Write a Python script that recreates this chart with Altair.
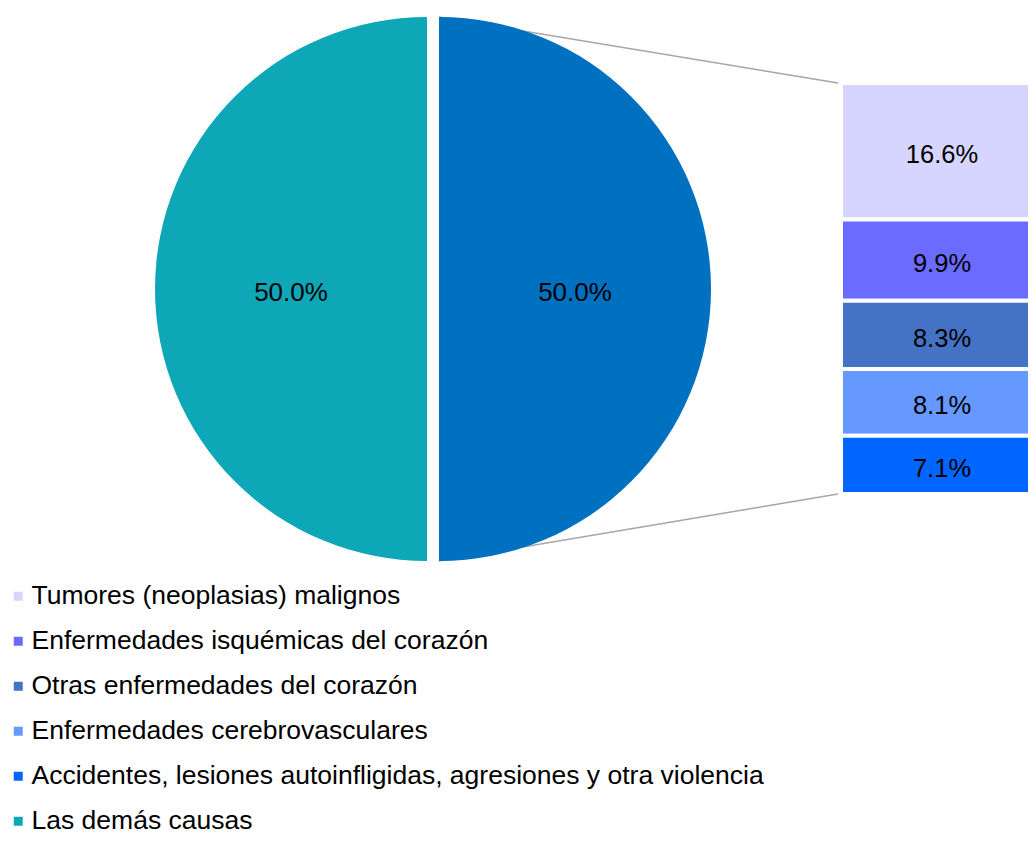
import math
import altair as alt
import pandas as pd

# ---- data ----
bar_categories = [
    "Tumores (neoplasias) malignos",
    "Enfermedades isquémicas del corazón",
    "Otras enfermedades del corazón",
    "Enfermedades cerebrovasculares",
    "Accidentes, lesiones autoinfligidas, agresiones y otra violencia",
]
bar_values = [16.6, 9.9, 8.3, 8.1, 7.1]
bar_labels = ["16.6%", "9.9%", "8.3%", "8.1%", "7.1%"]

pie_categories = ["Cinco principales causas", "Las demás causas"]
pie_values = [50.0, 50.0]
pie_labels = ["50.0%", "50.0%"]

legend_categories = bar_categories + ["Las demás causas"]
legend_colors = ["#D5D5FF", "#6B6BFF", "#4472C4", "#6699FF", "#0066FF", "#0DA7B8"]
split_color = "#0070C0"

FONT = "Liberation Sans"

color_scale = alt.Scale(domain=legend_categories, range=legend_colors)
legend = alt.Legend(
    orient="none", legendX=-3, legendY=575, title=None,
    symbolType="square", symbolSize=81, symbolStrokeWidth=0,
    labelFont=FONT, labelFontSize=26.5, labelColor="black", labelLimit=1000,
    rowPadding=18, labelOffset=0, padding=0,
)

pie_df = pd.DataFrame({"cause": pie_categories, "value": pie_values,
                       "label": pie_labels, "k": [0, 1]})
bar_df = pd.DataFrame({"cause": bar_categories, "value": bar_values,
                       "label": bar_labels, "rank": list(range(len(bar_values)))})
# connector ends: top and bottom of the stacked bar (0 and 50 %)
conn_df = pd.DataFrame({"v": [50.0, 0.0], "end": ["top", "bottom"]})

theta_scale = alt.Scale(domain=[0, 100], range=[0, 2 * math.pi])
y_scale = alt.Scale(domain=[0, 50], range=[486, 75])

CX, CY, R = 425, 281, 272
EXPLODE = 6

pie_base = alt.Chart(pie_df).transform_window(
    t1="sum(value)", sort=[alt.SortField("k")], frame=[None, 0]
).transform_calculate(t0="datum.t1 - datum.value").transform_calculate(
    mid="(datum.t0 + datum.t1) / 2")

right_arc = pie_base.transform_filter("datum.k == 0").mark_arc(outerRadius=R).encode(
    theta=alt.Theta("t0:Q", scale=theta_scale), theta2=alt.Theta2("t1"),
    x=alt.value(CX + EXPLODE), y=alt.value(CY), color=alt.value(split_color),
)
left_arc = pie_base.transform_filter("datum.k == 1").mark_arc(outerRadius=R).encode(
    theta=alt.Theta("t0:Q", scale=theta_scale), theta2=alt.Theta2("t1"),
    x=alt.value(CX - EXPLODE), y=alt.value(CY),
    color=alt.Color("cause:N", scale=color_scale, legend=legend),
)
right_txt = pie_base.transform_filter("datum.k == 0").mark_text(
    radius=136, dy=4, font=FONT, fontSize=26, color="black").encode(
    theta=alt.Theta("mid:Q", scale=theta_scale), text="label:N",
    x=alt.value(CX + EXPLODE), y=alt.value(CY),
)
left_txt = pie_base.transform_filter("datum.k == 1").mark_text(
    radius=136, dy=4, font=FONT, fontSize=26, color="black").encode(
    theta=alt.Theta("mid:Q", scale=theta_scale), text="label:N",
    x=alt.value(CX - EXPLODE), y=alt.value(CY),
)

bar_base = alt.Chart(bar_df).transform_window(
    y1="sum(value)", sort=[alt.SortField("rank", order="descending")], frame=[None, 0]
).transform_calculate(y0="datum.y1 - datum.value").transform_calculate(
    mid="(datum.y0 + datum.y1) / 2")

bar = bar_base.mark_bar(stroke="white", strokeWidth=4).encode(
    x=alt.value(833), x2=alt.value(1030),
    y=alt.Y("y0:Q", scale=y_scale, axis=None), y2=alt.Y2("y1"),
    color=alt.Color("cause:N", scale=color_scale, legend=legend),
)
bar_txt = bar_base.mark_text(dy=4, font=FONT, fontSize=25.5, color="black").encode(
    x=alt.value(934), y=alt.Y("mid:Q", scale=y_scale, axis=None), text="label:N",
)

line_top = alt.Chart(conn_df).transform_filter("datum.end == 'top'").mark_rule(
    color="#A6A6A6", strokeWidth=1.5).encode(
    x=alt.value(830), x2=alt.value(CX + EXPLODE),
    y=alt.Y("v:Q", scale=y_scale, axis=None), y2=alt.value(CY - R),
)
line_bot = alt.Chart(conn_df).transform_filter("datum.end == 'bottom'").mark_rule(
    color="#A6A6A6", strokeWidth=1.5).encode(
    x=alt.value(830), x2=alt.value(CX + EXPLODE),
    y=alt.Y("v:Q", scale=y_scale, axis=None), y2=alt.value(CY + R),
)

chart = alt.layer(
    line_top, line_bot, left_arc, right_arc, left_txt, right_txt, bar, bar_txt
).properties(
    width=1020, height=826, padding=0, background="white",
    autosize=alt.AutoSizeParams(type="none"),
).configure_view(stroke=None)

chart.save("out.html", embed_options={"renderer": "svg", "actions": False})
